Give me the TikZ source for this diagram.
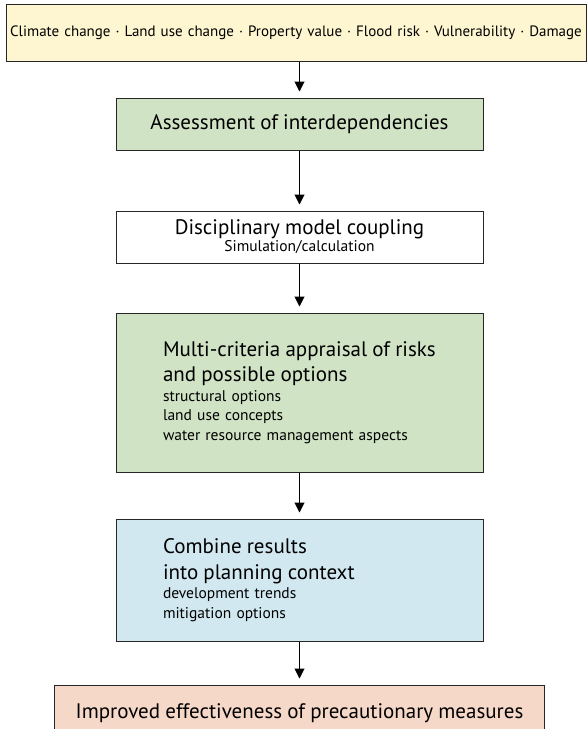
\documentclass[tikz,border=0pt]{standalone}
\usepackage{fontspec}
\setmainfont{PT Sans}
\usepackage{xcolor}
\usetikzlibrary{positioning,arrows.meta}
\setlength{\parindent}{0pt}

\definecolor{driverfill}{RGB}{253,246,208}
\definecolor{greenfill}{RGB}{208,227,197}
\definecolor{bluefill}{RGB}{210,232,240}
\definecolor{salmonfill}{RGB}{246,216,200}
\newcommand{\headfont}{\fontsize{21}{25.5}\selectfont}

\begin{document}
\begin{tikzpicture}[x=1pt, y=1pt, >={Triangle[length=10pt,width=10pt]},
  box/.style={rectangle, draw=black!85, line width=1pt, fill=#1, inner sep=0pt,
    minimum width=367pt, text width=367pt, align=center,
    font=\fontsize{15.5}{19.5}\selectfont},
  listbox/.style={box=#1, inner xsep=47pt, text width=273pt, align=left},
  flow/.style={->, line width=1pt, shorten >=6pt}]
  \useasboundingbox (0,0) rectangle (587,-729);

  \node[box=driverfill, minimum width=580pt, text width=580pt, minimum height=57pt,
    font=\fontsize{15}{18}\selectfont]
    (drivers) at (296,-32.5) {Climate change · Land use change · Property value · Flood risk · Vulnerability · Damage};
  \node[box=greenfill, minimum height=52pt] (assess) at (299.5,-124)
    {\headfont Assessment of interdependencies};
  \node[box=white, minimum height=52pt, below=60pt of assess,
    font=\fontsize{15.5}{17}\selectfont] (coupling)
    {{\headfont Disciplinary model coupling\par}Simulation/calculation};
  \node[listbox=greenfill, minimum height=159pt, below=49pt of coupling] (appraisal)
    {{\headfont Multi-criteria appraisal of risks\\and possible options\par}
     structural options\\land use concepts\\water resource management aspects};
  \node[listbox=bluefill, minimum height=122pt, below=46pt of appraisal] (planning)
    {{\headfont Combine results\\into planning context\par}
     development trends\\mitigation options};
  \node[box=salmonfill, minimum width=490pt, text width=490pt, minimum height=56pt,
    below=43pt of planning] (measures)
    {\headfont Improved effectiveness of precautionary measures};

  \draw[flow] (drivers.south -| assess.north) -- (assess.north);
  \draw[flow] (assess) -- (coupling);
  \draw[flow] (coupling) -- (appraisal);
  \draw[flow] (appraisal) -- (planning);
  \draw[flow] (planning) -- (measures);
\end{tikzpicture}
\end{document}
